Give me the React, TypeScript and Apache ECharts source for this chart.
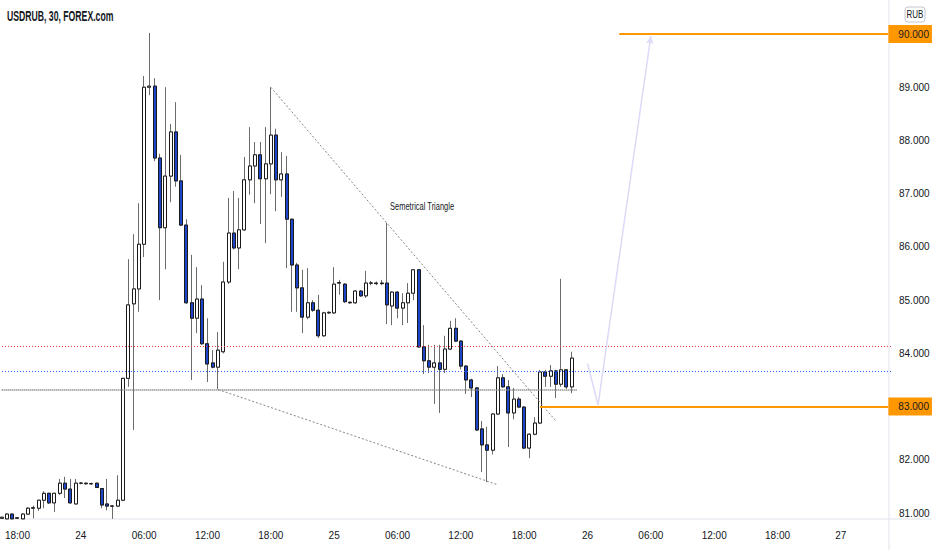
import React, { useEffect, useRef } from "react";
import * as echarts from "echarts";

// ---- candles (30 min), first candle = 23rd 16:30 ----
const OPEN = [
  80.90, 80.89, 80.98, 80.90, 80.89, 80.98, 81.09, 81.09, 81.24, 81.37,
  81.19, 81.37, 81.56, 81.45, 81.17, 81.56, 81.56, 81.55, 81.56, 81.46,
  81.17, 81.13, 81.13, 81.24, 83.53, 84.93, 85.21, 86.05, 89.00, 89.02,
  87.67, 86.36, 87.33, 88.16, 87.24, 86.41, 84.95, 84.66, 85.02, 84.18,
  83.82, 83.74, 84.03, 85.34, 86.26, 85.98, 86.32, 87.26, 87.52, 87.73,
  87.28, 87.56, 88.10, 87.26, 87.37, 86.52, 85.66, 85.23, 84.68, 84.95,
  84.81, 84.33, 84.76, 84.76, 85.32, 85.30, 84.95, 84.95, 85.17, 85.08,
  85.32, 85.32, 85.31, 85.32, 84.89, 85.15, 84.85, 84.95, 85.13, 85.57,
  84.12, 83.86, 83.74, 83.82, 83.70, 84.08, 84.47, 84.23, 83.76, 83.50,
  83.35, 82.58, 82.28, 82.18, 82.86, 83.54, 83.37, 82.88, 83.14, 82.99,
  82.22, 82.48, 82.69, 83.65, 83.57, 83.67, 83.42, 83.69, 83.37,
];
const HIGH = [
  80.93, 80.99, 80.99, 80.92, 81.00, 81.11, 81.14, 81.24, 81.41, 81.38,
  81.38, 81.64, 81.68, 81.64, 81.64, 81.58, 81.57, 81.57, 81.57, 81.47,
  81.64, 81.15, 81.71, 83.54, 85.77, 86.24, 86.82, 89.21, 90.02, 89.17,
  87.75, 89.00, 88.31, 88.72, 87.73, 86.52, 85.85, 85.62, 85.28, 84.66,
  84.06, 84.40, 85.72, 86.92, 87.05, 86.92, 87.69, 88.25, 87.97, 87.97,
  88.25, 89.00, 88.22, 87.78, 87.71, 86.53, 85.70, 85.57, 85.60, 85.00,
  85.10, 84.78, 84.79, 85.62, 85.38, 85.32, 84.97, 85.19, 85.19, 85.55,
  85.36, 85.35, 85.38, 86.45, 85.17, 85.17, 85.13, 85.32, 85.58, 85.58,
  84.53, 84.16, 84.16, 84.16, 84.33, 84.61, 84.66, 84.25, 83.78, 83.52,
  83.37, 82.73, 82.62, 82.88, 83.76, 83.61, 83.50, 83.35, 83.18, 83.01,
  82.50, 82.80, 83.69, 83.69, 83.78, 83.69, 85.40, 83.69, 84.03,
];
const LOW = [
  80.89, 80.89, 80.89, 80.89, 80.89, 80.97, 80.90, 81.04, 81.09, 81.17,
  81.02, 81.34, 81.28, 81.18, 81.17, 81.54, 81.53, 81.53, 81.47, 81.09,
  81.05, 80.89, 81.11, 81.22, 83.37, 82.56, 84.78, 85.81, 88.85, 87.61,
  85.00, 85.58, 86.84, 87.13, 86.39, 84.93, 83.50, 84.38, 84.16, 83.46,
  83.72, 83.33, 84.00, 85.30, 85.95, 85.58, 86.30, 86.98, 86.82, 86.43,
  86.07, 86.99, 86.67, 86.94, 85.60, 84.78, 84.78, 84.38, 84.64, 84.78,
  84.29, 84.31, 84.74, 84.74, 85.10, 84.95, 84.93, 84.93, 85.06, 85.04,
  85.28, 85.28, 85.28, 84.55, 84.53, 84.66, 84.53, 84.57, 85.00, 84.10,
  83.61, 83.63, 83.05, 82.88, 83.63, 84.06, 84.21, 83.70, 83.24, 83.18,
  82.54, 81.77, 81.58, 82.10, 82.84, 83.35, 82.24, 82.76, 82.97, 82.20,
  82.03, 82.46, 82.67, 83.37, 83.37, 83.16, 83.37, 83.33, 83.25,
];
const CLOSE = [
  80.92, 80.98, 80.89, 80.91, 80.98, 81.09, 81.10, 81.24, 81.37, 81.19,
  81.37, 81.56, 81.45, 81.19, 81.56, 81.56, 81.55, 81.55, 81.48, 81.15,
  81.13, 81.13, 81.24, 83.53, 84.91, 85.21, 86.05, 89.00, 89.02, 87.67,
  86.36, 87.33, 88.16, 87.24, 86.41, 84.95, 84.66, 85.02, 84.18, 83.80,
  83.74, 84.06, 85.34, 86.26, 85.98, 86.32, 87.26, 87.52, 87.73, 87.28,
  87.56, 88.10, 87.26, 87.37, 86.52, 85.66, 85.23, 84.68, 84.95, 84.81,
  84.33, 84.76, 84.77, 85.30, 85.33, 84.97, 84.96, 85.17, 85.08, 85.32,
  85.32, 85.31, 85.32, 84.91, 85.15, 84.85, 84.95, 85.13, 85.57, 84.12,
  83.86, 83.74, 83.82, 83.70, 84.08, 84.47, 84.23, 83.76, 83.50, 83.35,
  82.56, 82.28, 82.18, 82.86, 83.54, 83.37, 82.88, 83.14, 82.99, 82.22,
  82.48, 82.69, 83.65, 83.57, 83.67, 83.42, 83.69, 83.37, 83.91,
];

// ---- time axis ----
const START_DAY = 23;
const START_MINUTE = 16 * 60 + 30;
const SLOT_MINUTES = 30;
const SLOT_COUNT = 169;
const pad = (n: number) => (n < 10 ? "0" + n : "" + n);
const CATEGORIES: string[] = Array.from({ length: SLOT_COUNT }, (_, i) => {
  const t = START_MINUTE + i * SLOT_MINUTES;
  const day = START_DAY + Math.floor(t / 1440);
  const m = t % 1440;
  return `${day} ${pad(Math.floor(m / 60))}:${pad(m % 60)}`;
});
const TICK_LABELS: Record<string, string> = {
  "23 18:00": "18:00",
  "24 00:00": "24",
  "24 06:00": "06:00",
  "24 12:00": "12:00",
  "24 18:00": "18:00",
  "25 00:00": "25",
  "25 06:00": "06:00",
  "25 12:00": "12:00",
  "25 18:00": "18:00",
  "26 00:00": "26",
  "26 06:00": "06:00",
  "26 12:00": "12:00",
  "26 18:00": "18:00",
  "27 00:00": "27",
};

// ---- price axis ----
const Y_MIN = 81;
const Y_MAX = 90;
const Y_STEP = 1;

// ---- drawings ----
const RED_LEVEL = 84.125;
const BLUE_LEVEL = 83.66;
const GRAY_LEVEL = 83.32;
const GRAY_RANGE = [0, 109];
const TARGET_LEVEL = 90;
const TARGET_START = 117;
const SUPPORT_LEVEL = 83;
const SUPPORT_START = 102;
const LINE_END = 168;
const TRI_UPPER: [number, number][] = [[51, 89.0], [105, 82.73]];
const TRI_LOWER: [number, number][] = [[41, 83.32], [94, 81.53]];
const ARROW_PATH: [number, number][] = [[111, 83.81], [113, 83.03], [123, 89.96]];

const FONT = "'Liberation Sans', Arial, sans-serif";
const TEXT = "#131722";
const BORDER = "#e0e3eb";

export default function App() {
  const ref = useRef<HTMLDivElement>(null);

  useEffect(() => {
    document.body.style.margin = "0";
    if (!ref.current) return;
    const chart = echarts.init(ref.current, null, { renderer: "svg" });

    const wickData = OPEN.map((o, i) => [o, CLOSE[i], LOW[i], HIGH[i]]);
    const bodyData = OPEN.map((o, i) => [o, CLOSE[i], Math.min(o, CLOSE[i]), Math.max(o, CLOSE[i])]);

    const orangeLabel = (v: number) => ({
      show: true,
      position: "end",
      distance: 0,
      formatter: v.toFixed(3),
      backgroundColor: "#ff9800",
      color: TEXT,
      fontSize: 10,
      fontFamily: FONT,
      lineHeight: 12,
      padding: [3, 3, 3, 10],
    });

    const option: any = {
      animation: false,
      backgroundColor: "#ffffff",
      grid: {
        left: -1,
        right: 41,
        top: 34,
        bottom: 37,
        containLabel: false,
        outerBoundsMode: "none",
      },
      xAxis: {
        type: "category",
        data: CATEGORIES,
        boundaryGap: true,
        offset: 6,
        axisLine: { show: false },
        axisTick: { show: false },
        splitLine: { show: false },
        axisLabel: {
          interval: (_i: number, v: string) => TICK_LABELS[v] !== undefined,
          formatter: (v: string) => TICK_LABELS[v] ?? "",
          color: TEXT,
          fontSize: 10,
          fontFamily: FONT,
          margin: 11,
        },
      },
      yAxis: {
        type: "value",
        position: "right",
        min: Y_MIN,
        max: Y_MAX,
        interval: Y_STEP,
        scale: true,
        axisLine: { show: false },
        axisTick: { show: false },
        splitLine: { show: false },
        axisLabel: {
          formatter: (v: number) => v.toFixed(3),
          color: TEXT,
          fontSize: 10,
          fontFamily: FONT,
          margin: 8,
          align: "left",
        },
      },
      series: [
        {
          name: "wicks",
          type: "candlestick",
          data: wickData,
          barWidth: 3.5,
          clip: false,
          silent: true,
          itemStyle: {
            color: "rgba(0,0,0,0)",
            color0: "rgba(0,0,0,0)",
            borderColor: "#6b6b6b",
            borderColor0: "#6b6b6b",
            borderColorDoji: "#6b6b6b",
            borderWidth: 1,
          },
          markLine: {
            silent: true,
            symbol: ["none", "none"],
            animation: false,
            label: { show: false },
            emphasis: { disabled: true },
            data: [
              {
                yAxis: RED_LEVEL,
                lineStyle: { color: "#f23645", width: 1, type: [1, 2] },
              },
              {
                yAxis: BLUE_LEVEL,
                lineStyle: { color: "#2962ff", width: 1, type: [1, 2] },
              },
              [
                {
                  coord: [GRAY_RANGE[0], GRAY_LEVEL],
                  lineStyle: { color: "#8a8a8a", width: 2, type: [1, 1] },
                },
                { coord: [GRAY_RANGE[1], GRAY_LEVEL] },
              ],
              [
                {
                  coord: TRI_UPPER[0],
                  lineStyle: { color: "#858585", width: 1, type: [2, 2] },
                },
                { coord: TRI_UPPER[1] },
              ],
              [
                {
                  coord: TRI_LOWER[0],
                  lineStyle: { color: "#858585", width: 1, type: [2, 2] },
                },
                { coord: TRI_LOWER[1] },
              ],
              [
                {
                  coord: ARROW_PATH[0],
                  lineStyle: { color: "#dcdaf6", width: 1.5, type: "solid" },
                },
                { coord: ARROW_PATH[1] },
              ],
              [
                {
                  coord: ARROW_PATH[1],
                  lineStyle: { color: "#dcdaf6", width: 1.5, type: "solid" },
                },
                { coord: ARROW_PATH[2], symbol: "arrow", symbolSize: [6, 8] },
              ],
              [
                {
                  coord: [TARGET_START, TARGET_LEVEL],
                  lineStyle: { color: "#ff9800", width: 2, type: "solid" },
                  label: orangeLabel(TARGET_LEVEL),
                },
                { coord: [LINE_END, TARGET_LEVEL] },
              ],
              [
                {
                  coord: [SUPPORT_START, SUPPORT_LEVEL],
                  lineStyle: { color: "#ff9800", width: 2, type: "solid" },
                  label: orangeLabel(SUPPORT_LEVEL),
                },
                { coord: [LINE_END, SUPPORT_LEVEL] },
              ],
            ],
          },
        },
        {
          name: "bodies",
          type: "candlestick",
          data: bodyData,
          barWidth: 3.5,
          clip: false,
          silent: true,
          itemStyle: {
            color: "#ffffff",
            color0: "#1e44c8",
            borderColor: "#1a1a1a",
            borderColor0: "#1a1a1a",
            borderColorDoji: "#1a1a1a",
            borderWidth: 1,
          },
        },
      ],
      graphic: [
        {
          type: "line",
          silent: true,
          shape: { x1: 889, y1: 0, x2: 889, y2: 550 },
          style: { stroke: BORDER, lineWidth: 1 },
          z: 1,
        },
        {
          type: "line",
          silent: true,
          shape: { x1: 0, y1: 519, x2: 932, y2: 519 },
          style: { stroke: BORDER, lineWidth: 1 },
          z: 1,
        },
        {
          type: "text",
          x: 7,
          y: 16,
          scaleX: 0.62,
          silent: true,
          style: {
            text: "USDRUB, 30, FOREX.com",
            fontSize: 14,
            fontWeight: "bold",
            fontFamily: FONT,
            fill: TEXT,
            align: "left",
            verticalAlign: "middle",
          },
        },
        {
          type: "rect",
          silent: true,
          shape: { x: 905, y: 7, width: 20, height: 15, r: 3 },
          style: { fill: "#ffffff", stroke: "#c4c7cf", lineWidth: 1 },
        },
        {
          type: "text",
          x: 915,
          y: 15,
          scaleX: 0.8,
          silent: true,
          style: {
            text: "RUB",
            fontSize: 10,
            fontFamily: FONT,
            fill: TEXT,
            align: "center",
            verticalAlign: "middle",
          },
        },
        {
          type: "text",
          x: 390,
          y: 207,
          scaleX: 0.75,
          silent: true,
          style: {
            text: "Semetrical Triangle",
            fontSize: 10,
            fontFamily: FONT,
            fill: TEXT,
            align: "left",
            verticalAlign: "middle",
          },
        },
      ],
    };

    chart.setOption(option);
    return () => chart.dispose();
  }, []);

  return <div ref={ref} style={{ width: 932, height: 550 }} />;
}
